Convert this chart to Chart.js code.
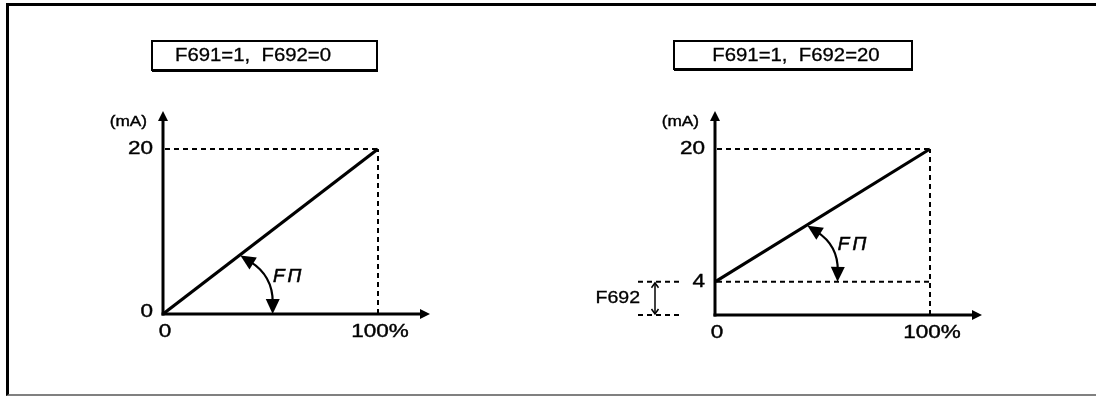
<!DOCTYPE html>
<html><head><meta charset="utf-8">
<script src="https://cdn.jsdelivr.net/npm/chart.js@4.4.1/dist/chart.umd.min.js"></script>
<style>
html,body{margin:0;padding:0;background:#fff;width:1096px;height:396px;overflow:hidden;position:relative}
#frame{position:absolute;left:6px;top:3px;width:1100px;height:388px;border-left:3px solid #000;border-top:3px solid #000;border-bottom:2px solid #808080;}
.c{position:absolute;top:0}
</style></head><body>
<div id="frame"></div>
<canvas id="c1" class="c" width="548" height="396" style="left:0"></canvas>
<canvas id="c2" class="c" width="548" height="396" style="left:548px"></canvas>
<script>
// ---- data ----
const xValues = [0, 100];            // input, %
const outputLeft = [0, 20];          // mA, F692 = 0
const outputRight = [4, 20];         // mA, F692 = 20
const xTickValues = [0, 100];
const xTickLabels = ['0', '100%'];
const yTicksLeft = [0, 20];
const yTicksRight = [4, 20];
const titles = ['F691=1,  F692=0', 'F691=1,  F692=20'];
const yUnit = '(mA)';
const fnLabel = 'FΠ';
const offsetLabel = 'F692';
const fnArcLeft = [36, 51];   // % where gain arrow touches the line / the base
const fnArcRight = [43, 57];

// ---- helpers ----
function txt(ctx, s, x, y, font, align, sx, spacing, bold) {
  ctx.save();
  ctx.font = font; ctx.textBaseline = 'middle'; ctx.fillStyle = '#000'; ctx.strokeStyle = '#000';
  ctx.letterSpacing = spacing || '0px';
  const w = ctx.measureText(s).width * sx;
  const left = align === 'center' ? x - w / 2 : align === 'right' ? x - w : x;
  ctx.translate(left, y); ctx.scale(sx, 1); ctx.textAlign = 'left';
  ctx.fillText(s, 0, 0);
  if (bold) { ctx.lineWidth = bold; ctx.strokeText(s, 0, 0); }
  ctx.restore();
}
function head(ctx, tx, ty, ang, len, half) {
  const c = Math.cos(ang), s = Math.sin(ang);
  ctx.beginPath();
  ctx.moveTo(tx, ty);
  ctx.lineTo(tx - len * c + half * s, ty - len * s - half * c);
  ctx.lineTo(tx - len * c - half * s, ty - len * s + half * c);
  ctx.closePath(); ctx.fill();
}
function line(ctx, x1, y1, x2, y2) {
  ctx.beginPath(); ctx.moveTo(x1, y1); ctx.lineTo(x2, y2); ctx.stroke();
}

const decor = {
  id: 'decor',
  afterDraw(chart, args, o) {
    const ctx = chart.ctx, xs = chart.scales.x, ys = chart.scales.y;
    const x0 = xs.getPixelForValue(0), x100 = xs.getPixelForValue(100);
    const y0 = ys.getPixelForValue(0), ytop = ys.getPixelForValue(20);
    ctx.save();
    ctx.strokeStyle = '#000'; ctx.fillStyle = '#000';
    // dashed guides
    ctx.setLineDash([5, 4]); ctx.lineWidth = 2;
    o.yTicks.forEach(v => { if (v > 0) { const y = ys.getPixelForValue(v); line(ctx, x0 + 2, y, x100, y); } });
    line(ctx, x100, y0, x100, ytop);
    if (o.bracket) {
      const y4 = ys.getPixelForValue(o.yTicks[0]);
      line(ctx, x0 - 77, y4, x0 - 35, y4);
      line(ctx, x0 - 77, y0, x0 - 35, y0);
    }
    ctx.setLineDash([]);
    // axes
    ctx.lineWidth = 3;
    line(ctx, x0, y0 + 1.5, x0, ytop - 30);
    head(ctx, x0, ytop - 38, -Math.PI / 2, 10, 5);
    line(ctx, x0 - 1.5, y0, x100 + 44, y0);
    head(ctx, x100 + 52, y0, 0, 10, 5);
    // offset bracket
    if (o.bracket) {
      const y4 = ys.getPixelForValue(o.yTicks[0]);
      const bx = x0 - 60;
      ctx.lineWidth = 1.5;
      line(ctx, bx, y4 + 2, bx, y0 - 2);
      ctx.beginPath();
      ctx.moveTo(bx - 3.5, y4 + 6); ctx.lineTo(bx, y4 + 1); ctx.lineTo(bx + 3.5, y4 + 6);
      ctx.moveTo(bx - 3.5, y0 - 6); ctx.lineTo(bx, y0 - 1); ctx.lineTo(bx + 3.5, y0 - 6);
      ctx.stroke();
      txt(ctx, offsetLabel, x0 - 75, (y4 + y0) / 2, '17px "Liberation Sans", Arial, sans-serif', 'right', 1.15, '0px', 0.3);
    }
    // gain arc
    const meta = chart.getDatasetMeta(0).data;
    const pA = meta[0], pB = meta[1];
    const t = (xs.getPixelForValue(o.arc[0]) - pA.x) / (pB.x - pA.x);
    const sx = pA.x + t * (pB.x - pA.x), sy = pA.y + t * (pB.y - pA.y) + 1;
    const ex = xs.getPixelForValue(o.arc[1]), ey = o.bracket ? ys.getPixelForValue(o.yTicks[0]) : y0;
    const mx = (sx + ex) / 2, my = (sy + ey) / 2;
    const dx = ex - sx, dy = ey - sy;
    const k = 0.28;
    const cx = mx + dy * k, cy = my - dx * k;
    ctx.lineWidth = 2.2;
    ctx.beginPath(); ctx.moveTo(sx + (cx - sx) * 0.3, sy + (cy - sy) * 0.3);
    ctx.quadraticCurveTo(cx, cy, ex - (ex - cx) * 0.3, ey - (ey - cy) * 0.3);
    ctx.stroke();
    head(ctx, sx, sy, Math.atan2(sy - cy, sx - cx), 15, 7);
    head(ctx, ex, ey, Math.atan2(ey - cy, ex - cx), 15, 7);
    txt(ctx, fnLabel, ex + 16, ey - 37, 'italic 19px "Liberation Sans", Arial, sans-serif', 'center', 1.0, '3px', 0.6);
    // tick labels
    const tf = '18px "Liberation Sans", Arial, sans-serif';
    o.yTicks.forEach(v => txt(ctx, String(v), x0 - 10, ys.getPixelForValue(v) - (v === 0 ? 2 : 0), tf, 'right', 1.25, '0px', 0.4));
    xTickValues.forEach((v, i) => txt(ctx, xTickLabels[i], xs.getPixelForValue(v) + 2, y0 + 18, tf, 'center', 1.25, '0px', 0.4));
    txt(ctx, yUnit, x0 - 16, ytop - 27, '15px "Liberation Sans", Arial, sans-serif', 'right', 1.15, '0px', 0.4);
    // title box
    ctx.lineWidth = 2;
    ctx.strokeRect(o.box[0], o.box[1], o.box[2] - o.box[0], o.box[3] - o.box[1]);
    ctx.lineWidth = 1; line(ctx, o.box[0], o.box[3] + 1.5, o.box[2] + 1, o.box[3] + 1.5);
    txt(ctx, o.title, o.titleX, (o.box[1] + o.box[3]) / 2 + 1, '18px "Liberation Sans", Arial, sans-serif', 'center', 1.13, '0px', 0.3);
    ctx.restore();
  }
};

function makeChart(id, yData, yTicks, cfg) {
  return new Chart(document.getElementById(id), {
    type: 'line',
    data: { datasets: [{ data: xValues.map((x, i) => ({ x: x, y: yData[i] })), borderColor: '#000', borderWidth: 3.2, pointRadius: 0, clip: false, tension: 0, fill: false }] },
    options: {
      responsive: false, animation: false, events: [],
      layout: { padding: cfg.pad },
      scales: {
        x: { type: 'linear', min: 0, max: 100, display: false },
        y: { type: 'linear', min: 0, max: 20, display: false }
      },
      plugins: {
        legend: { display: false }, tooltip: { enabled: false }, title: { display: false },
        decor: { yTicks: yTicks, bracket: cfg.bracket, arc: cfg.arc, box: cfg.box, title: cfg.title, titleX: cfg.titleX }
      }
    },
    plugins: [decor]
  });
}

makeChart('c1', outputLeft, yTicksLeft, {
  pad: { left: 163, right: 170, top: 149, bottom: 82 },
  bracket: false, arc: fnArcLeft, box: [152, 41, 377, 70], title: titles[0], titleX: 253
});
makeChart('c2', outputRight, yTicksRight, {
  pad: { left: 167, right: 166, top: 149, bottom: 81 },
  bracket: true, arc: fnArcRight, box: [674 - 548, 41, 912 - 548, 69], title: titles[1], titleX: 796 - 548
});
</script>
</body></html>
